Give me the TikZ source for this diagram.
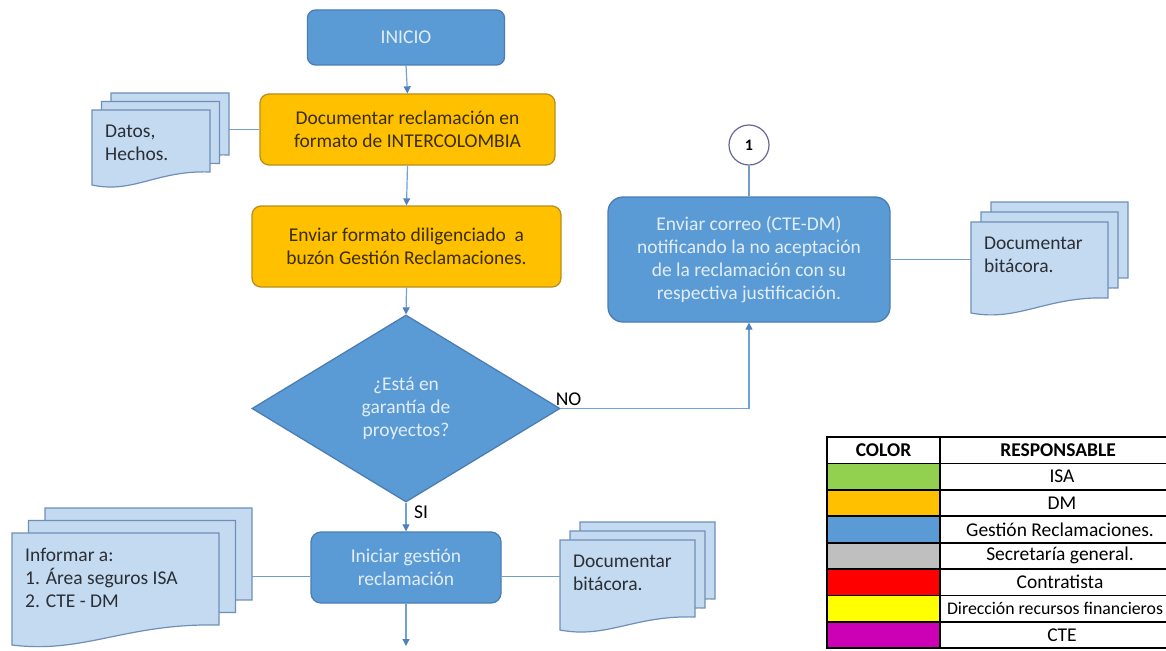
\documentclass[tikz,border=0pt]{standalone}
\usepackage{fontspec}
\setmainfont{Carlito}
\usetikzlibrary{shapes.geometric,arrows.meta,calc}
\definecolor{bfill}{HTML}{5B9BD5}
\definecolor{bdraw}{HTML}{4A7DB5}
\definecolor{ofill}{HTML}{FFC000}
\definecolor{odraw}{HTML}{B88F1E}
\definecolor{dfill}{HTML}{C3DAF1}
\definecolor{ddraw}{HTML}{6F8FB8}
\definecolor{lcol}{HTML}{6FA2D8}
\definecolor{acol}{HTML}{4F81BD}
\definecolor{btext}{HTML}{E2EDF8}
\definecolor{otext}{HTML}{3A2E00}
\definecolor{dtext}{HTML}{2A2E35}
\definecolor{tgreen}{HTML}{92D050}
\definecolor{tgray}{HTML}{BFBFBF}
\definecolor{tred}{HTML}{FF0000}
\definecolor{tyellow}{HTML}{FFFF00}
\definecolor{tmag}{HTML}{CC00B4}
\tikzset{
  basefont/.style={font=\fontsize{19.5}{23}\selectfont},
  bluebox/.style={basefont, draw=bdraw, fill=bfill, line width=1.3pt, text=btext, align=center, inner sep=0pt},
  orangebox/.style={basefont, draw=odraw, fill=ofill, line width=1.3pt, text=otext, align=center, inner sep=0pt, rounded corners=9pt},
  docpage/.style={draw=ddraw, fill=dfill, line width=1.2pt},
  doctext/.style={basefont, text=dtext, align=left, inner sep=0pt},
  conn/.style={draw=lcol, line width=1.2pt, -{Triangle[width=7pt,length=7pt,color=acol,fill=acol]}},
  plainconn/.style={draw=lcol!85!gray, line width=1.1pt},
  lbl/.style={basefont, text=black, inner sep=0pt},
  ttext/.style={basefont, text=black, inner sep=0pt},
  tline/.style={draw=black, line width=1.8pt}
}
\newcommand{\mdoc}[9]{%
  \foreach \k in {2,1,0}{%
    \draw[docpage, shift={(\k*#7,-\k*#8)}] (#2,#3) -- ({#2+#4},#3) -- ({#2+#4},{#3+#5-#6})
      .. controls ({#2+0.55*#4},{#3+#5-#6-2}) and ({#2+0.35*#4},{#3+#5+9}) .. (#2,{#3+#5}) -- cycle;
  }
  \node[inner sep=0pt, minimum width={#4+2*#7}, minimum height={#5+2*#8}, anchor=north west] (#1) at (#2,{#3-2*#8}) {};
  \node[doctext, anchor=north west] (#1t) at ({#2+13},{#3+15}) {#9};
}
\begin{document}
\begin{tikzpicture}[x=1pt,y=-1pt]
\clip (0,0) rectangle (1166,650);
\fill[white] (0,0) rectangle (1166,650);

% main flow
\node[bluebox, rounded corners=8pt, minimum width=197, minimum height=55] (inicio) at (406,37.5) {INICIO};
\node[orangebox, minimum width=295, minimum height=71] (doc1) at (407.5,129.5) {Documentar reclamación en\\formato de INTERCOLOMBIA};
\node[orangebox, minimum width=309, minimum height=81] (doc2) at (406.5,246.5) {Enviar formato diligenciado\ \ a\\buzón Gestión Reclamaciones.};
\node[diamond, bluebox, minimum width=308, minimum height=187] (dec) at (406,408.5) {¿Está en\\garantía de\\proyectos?};
\node[bluebox, rounded corners=10pt, minimum width=190, minimum height=71] (iniciar) at (406,567.5) {Iniciar gestión\\reclamación};
\node[bluebox, rounded corners=15pt, minimum width=282, minimum height=125] (enviar) at (749,259.5) {Enviar correo (CTE-DM)\\notificando la no aceptación\\de la reclamación con su\\respectiva justificación.};
\node[circle, draw=gray!80!blue, fill=white, line width=1.2pt, minimum size=40, inner sep=0pt, font=\fontsize{16}{18}\selectfont\bfseries] (c1) at (749,145) {1};
\coordinate (fin) at (406,646);

% documents
\mdoc{datos}{92}{110}{118}{75}{13}{9.5}{8.5}{Datos,\\Hechos.}
\mdoc{informar}{12}{533}{207}{112}{20}{16.5}{12.5}{Informar a:\\1. Área seguros ISA\\2. CTE - DM}
\mdoc{docB}{560}{540}{135}{90}{13}{10}{9}{Documentar\\bitácora.}
\mdoc{docR}{971}{222}{137}{91}{15}{10}{10}{Documentar\\bitácora.}

% connectors
\draw[conn] (inicio.south) -- (doc1.north);
\draw[conn] (doc1.south) -- (doc2.north);
\draw[conn] (doc2.south) -- (dec.north);
\draw[conn] (dec.south) -- (iniciar.north);
\draw[conn] (dec.east) -| (enviar.south);
\draw[conn] (iniciar.south) -- (fin);
\draw[plainconn] (c1.south) -- (enviar.north);
\draw[plainconn] (doc1.west) -- (doc1.west -| datos.east);
\draw[plainconn] (enviar.east) -- (enviar.east -| docR.west);
\draw[plainconn] (informar.east) -- (informar.east -| iniciar.west);
\draw[plainconn] (docB.west) -- (docB.west -| iniciar.east);
\node[lbl, anchor=south west] (no) at ($(dec.east)+(-5,-3)$) {NO};
\node[lbl, anchor=west] (si) at ($(dec.south)+(8,10)$) {SI};

% legend table
\foreach \c [count=\i] in {tgreen,ofill,bfill,tgray,tred,tyellow,tmag}
  \fill[\c] (827,{437+26.4*\i}) rectangle (940,{437+26.4*(\i+1)});
\foreach \i in {0,...,8}
  \draw[tline] (826,{437+26.4*\i}) -- (1180,{437+26.4*\i});
\draw[tline] (827,437) -- (827,{437+26.4*8});
\draw[tline] (940,437) -- (940,{437+26.4*8});
\node[ttext, font=\fontsize{19.5}{23}\selectfont\bfseries] (hcolor) at (883.5,450.2) {COLOR};
\node[ttext, font=\fontsize{19.5}{23}\selectfont\bfseries] (hresp) at (1058,450.2) {RESPONSABLE};
\node[ttext] (risa) at (1062,476.6) {ISA};
\node[ttext] (rdm) at (1062,503) {DM};
\node[ttext] (rgr) at (1060,529.4) {Gestión Reclamaciones.};
\node[ttext] (rsg) at (1060,555.8) {Secretaría general.};
\node[ttext] (rcon) at (1060,582.2) {Contratista};
\node[ttext] (rdrf) at (1055,608.6) {\resizebox{216pt}{!}{Dirección recursos financieros}};
\node[ttext] (rcte) at (1062,635) {CTE};
\end{tikzpicture}
\end{document}
